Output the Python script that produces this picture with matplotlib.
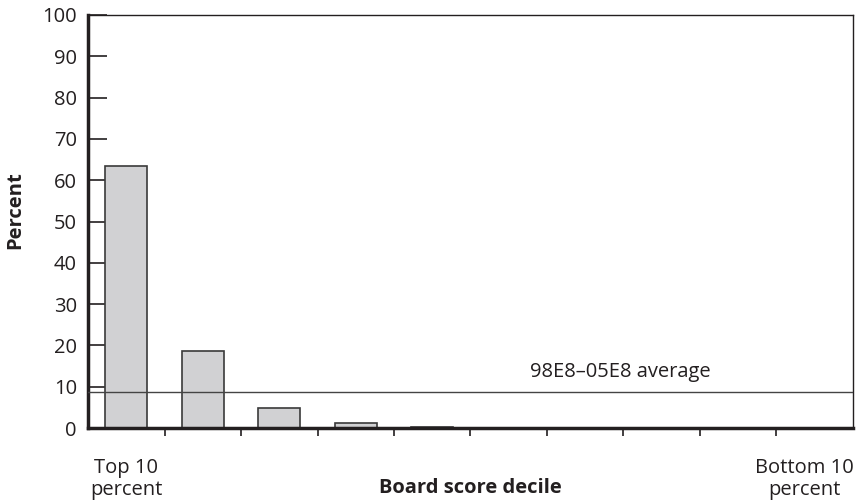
import numpy as np
from matplotlib import pyplot as plt

plt.rcParams['font.family'] = ['Open Sans', 'DejaVu Sans']

# Daten
deciles = np.arange(10)
percent = [63.5, 18.7, 4.9, 1.3, 0.3, 0, 0, 0, 0, 0]
average = 8.7
avg_label = '98E8\u201305E8 average'
yticks = np.arange(0, 101, 10)

fig = plt.figure(figsize=(8.57, 5), dpi=100)
ax = fig.add_axes([0.1027, 0.144, 0.8926, 0.826])

ax.bar(deciles, percent, width=0.55, color='#d1d1d3', edgecolor='#3a3a3a', linewidth=1.2, zorder=2)
ax.axhline(average, color='#444444', linewidth=1.0, zorder=3)
ax.text(5.28, 13.6, avg_label, fontsize=14.5, color='#231f20', ha='left', va='center')

ax.set_xlim(-0.5, 9.5)
ax.set_ylim(0, 100)
ax.set_yticks(yticks)
ax.set_xticks(np.arange(0.5, 9, 1))
ax.set_xticklabels([])
ax.tick_params(axis='y', direction='in', length=14, width=1.2, pad=8, labelsize=14.5,
               colors='#231f20')
ax.tick_params(axis='x', direction='out', length=6, width=1.2, colors='#231f20')

for s in ['left', 'bottom']:
    ax.spines[s].set_linewidth(2.5)
    ax.spines[s].set_color('#231f20')
for s in ['top', 'right']:
    ax.spines[s].set_linewidth(1.0)
    ax.spines[s].set_color('#231f20')

ax.text(0, -12.4, 'Top 10\npercent', fontsize=14.5, ha='center', va='center',
        color='#231f20', linespacing=1.1, clip_on=False)
ax.text(8.86, -12.4, 'Bottom 10\npercent', fontsize=14.5, ha='center', va='center',
        color='#231f20', linespacing=1.1, clip_on=False)
ax.text(4.5, -14.5, 'Board score decile', fontsize=14.5, fontweight='bold',
        ha='center', va='center', color='#231f20', clip_on=False)
fig.text(0.018, 0.58, 'Percent', fontsize=14.5, fontweight='bold', rotation=90,
         ha='center', va='center', color='#231f20')

plt.savefig('out.png', dpi=100)
